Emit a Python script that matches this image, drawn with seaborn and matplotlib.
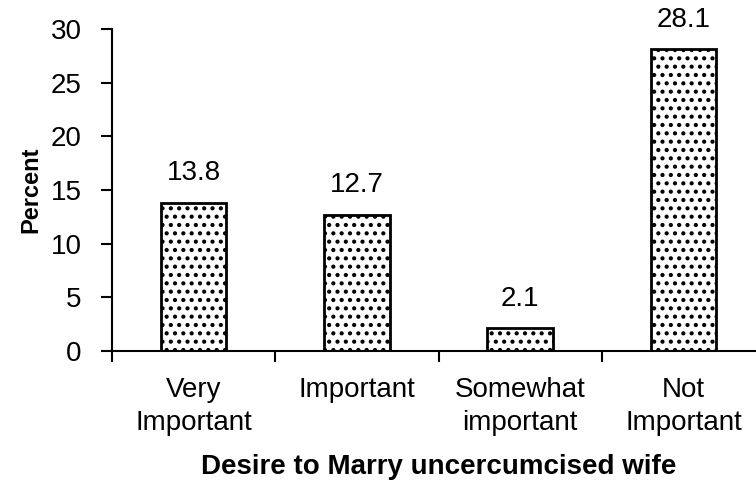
import pandas as pd
import seaborn as sns
import matplotlib.pyplot as plt

# Chart values
categories = ['Very\nImportant', 'Important', 'Somewhat\nimportant', 'Not\nImportant']
percent = [13.8, 12.7, 2.1, 28.1]

data = pd.DataFrame({'Desire': categories, 'Percent': percent})

sns.set_style('white')
plt.rcParams['font.family'] = ['Liberation Sans', 'DejaVu Sans']
plt.rcParams['text.color'] = 'black'
plt.rcParams['axes.labelcolor'] = 'black'
plt.rcParams['xtick.color'] = 'black'
plt.rcParams['ytick.color'] = 'black'
plt.rcParams['hatch.color'] = 'black'
plt.rcParams['hatch.linewidth'] = 1.8

fig = plt.figure(figsize=(7.56, 4.83), dpi=100)
ax = fig.add_axes([112 / 756, 132 / 483, 653 / 756, 322 / 483])

bar_plot = sns.barplot(x='Desire', y='Percent', data=data, width=0.4,
                       color='white', edgecolor='black', linewidth=2, ax=ax)

# Dotted fill like the original
for p in bar_plot.patches:
    p.set_hatch('..')

# Values above the bars
for p in bar_plot.patches:
    x_pos = p.get_x() + p.get_width() / 2.
    y_pos = p.get_height()
    bar_plot.annotate(f'{y_pos:.1f}', (x_pos, y_pos),
                      xytext=(0, 12), textcoords='offset points',
                      ha='center', va='bottom', fontsize=20)

ax.set_ylim(0, 30)
ax.set_xlim(-0.5, 3.5)
ax.set_yticks(range(0, 31, 5))

# Category ticks sit between groups, labels centred under bars
ax.set_xticks([-0.5, 0.5, 1.5, 2.5], minor=True)
ax.tick_params(axis='x', which='major', length=0, pad=19, labelsize=20)
ax.tick_params(axis='x', which='minor', length=8, width=1.5, direction='out',
               bottom=True)
ax.tick_params(axis='y', length=8, width=1.5, direction='out', left=True,
               pad=14, labelsize=20)
for lab in ax.get_xticklabels():
    lab.set_linespacing(1.35)

ax.set_ylabel('Percent', fontsize=17, fontweight='bold', labelpad=6)
ax.set_xlabel('Desire to Marry uncercumcised wife', fontsize=20,
              fontweight='bold', labelpad=13)

sns.despine(ax=ax, top=True, right=True)
for side in ['left', 'bottom']:
    ax.spines[side].set_color('black')
    ax.spines[side].set_linewidth(1.5)

fig.savefig('out.png', dpi=100)
